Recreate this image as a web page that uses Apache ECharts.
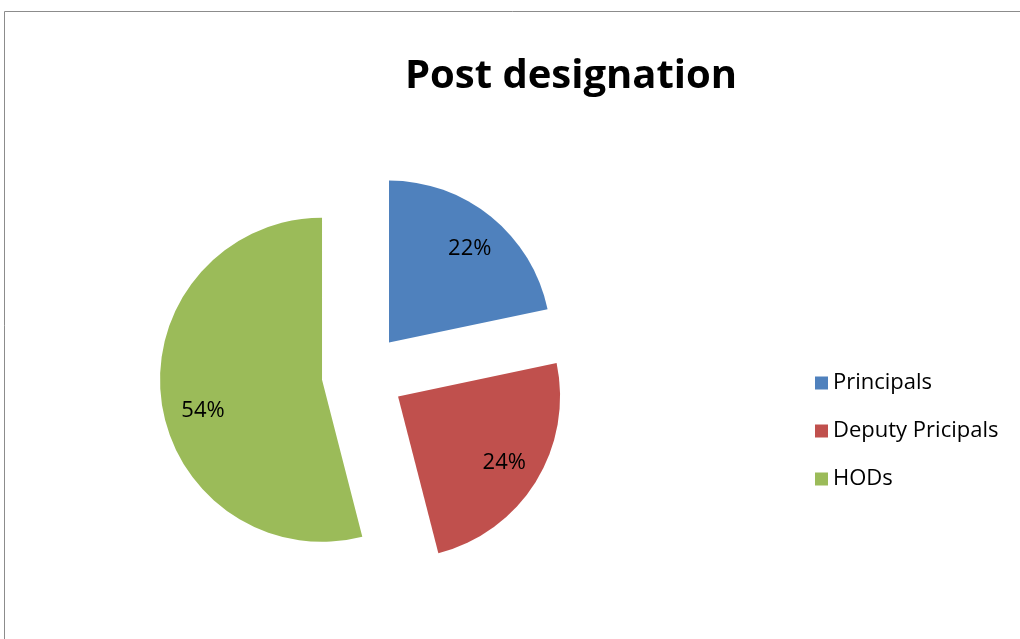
<!DOCTYPE html>
<html><head><meta charset="utf-8">
<script src="https://cdn.jsdelivr.net/npm/echarts@6/dist/echarts.min.js"></script>
<style>html,body{margin:0;padding:0;background:#fff}#c{width:1020px;height:639px}</style>
</head><body><div id="c"></div>
<script>
var categories = ['Principals', 'Deputy Pricipals', 'HODs'];
var values = [21.7, 24.3, 54.0];
var colors = ['#4F81BD', '#C0504D', '#9BBB59'];

var chart = echarts.init(document.getElementById('c'));
var mainData = categories.map(function (n, i) {
  return { name: n, value: values[i], selected: true, itemStyle: { color: colors[i] } };
});
var labelData = categories.map(function (n, i) {
  return { name: n, value: values[i], selected: true };
});
chart.setOption({
  animation: false,
  title: {
    text: 'Post designation', left: 566, top: 52, textAlign: 'center',
    textStyle: { fontFamily: 'Open Sans', fontWeight: 'bold', fontSize: 40, color: '#000' }
  },
  graphic: [{ type: 'rect', shape: { x: 4.5, y: 11.5, width: 1100, height: 700 },
    style: { fill: 'none', stroke: '#8c8c8c', lineWidth: 1 }, silent: true }],
  legend: {
    orient: 'vertical', left: 810, top: 366, icon: 'rect', itemWidth: 13, itemHeight: 13,
    itemGap: 24, data: categories, selectedMode: false,
    textStyle: { fontFamily: 'Open Sans', fontSize: 22, color: '#000', lineHeight: 24 }
  },
  series: [{
    type: 'pie', center: [363, 374.6], radius: 162, startAngle: 90, clockwise: true,
    selectedMode: 'multiple', selectedOffset: 41.3, silent: true,
    label: { show: false }, labelLine: { show: false },
    data: mainData
  }, {
    type: 'pie', center: [363, 374.6], radius: 244, startAngle: 90, clockwise: true,
    selectedMode: 'multiple', selectedOffset: 41.3, silent: true, percentPrecision: 0,
    itemStyle: { color: 'rgba(0,0,0,0)' }, z: 3,
    label: { show: true, position: 'inside', formatter: '{d}%',
      fontFamily: 'Open Sans', fontSize: 22, color: '#000' },
    labelLine: { show: false },
    labelLayout: function (p) {
      if (p.dataIndex === 2) return { dx: 5, dy: 15 };
      if (p.dataIndex === 0) return { dx: 2, dy: 3 };
      return {};
    },
    data: labelData
  }]
});
</script></body></html>
